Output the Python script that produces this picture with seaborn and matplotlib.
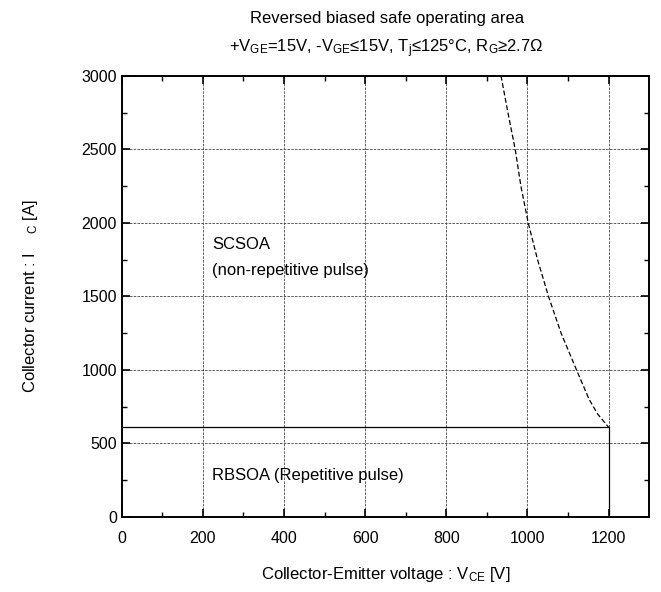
import numpy as np
import pandas as pd
import matplotlib
matplotlib.use("Agg")
import matplotlib.pyplot as plt
import seaborn as sns

# SCSOA boundary (dashed)
scsoa_v = [935, 952, 970, 984, 1002, 1025, 1052, 1083, 1121, 1152, 1173, 1200]
scsoa_i = [3000, 2750, 2500, 2250, 2000, 1750, 1500, 1250, 1000, 800, 700, 610]

# RBSOA rectangle (solid)
rbsoa_v = [0, 1200, 1200]
rbsoa_i = [610, 610, 0]

x_ticks = [0, 200, 400, 600, 800, 1000, 1200]
y_ticks = [0, 500, 1000, 1500, 2000, 2500, 3000]

sns.set_style("ticks")
plt.rcParams['font.family'] = ['Liberation Sans', 'DejaVu Sans']
plt.rcParams['mathtext.fontset'] = 'custom'
plt.rcParams['mathtext.rm'] = 'Liberation Sans'
plt.rcParams['mathtext.it'] = 'Liberation Sans'
plt.rcParams['text.color'] = 'black'
plt.rcParams['axes.labelcolor'] = 'black'

fig = plt.figure(figsize=(6.61, 5.92), dpi=100)
ax = fig.add_axes([0.184, 0.127, 0.798, 0.745])

sc = pd.DataFrame({"v": scsoa_v, "i": scsoa_i})
rb = pd.DataFrame({"v": rbsoa_v, "i": rbsoa_i})
sns.lineplot(data=sc, x="v", y="i", sort=False, estimator=None, ax=ax,
             color="black", lw=0.9, linestyle=(0, (4, 2)))
sns.lineplot(data=rb, x="v", y="i", sort=False, estimator=None, ax=ax,
             color="black", lw=0.9)

ax.set_xlim(0, 1300)
ax.set_ylim(0, 3000)
ax.set_xticks(x_ticks)
ax.set_yticks(y_ticks)
ax.set_xticks(np.arange(100, 1300, 200), minor=True)
ax.set_yticks(np.arange(250, 3000, 500), minor=True)
ax.grid(True, which="major", color="#444444", linestyle=(0, (3, 1.5)), lw=0.6)
ax.tick_params(which="both", direction="in", top=True, right=True,
               labelsize=11.5, colors="black")
ax.tick_params(which="major", length=6, width=1.2)
ax.tick_params(which="minor", length=3.5, width=1.0)
ax.tick_params(axis="x", pad=10)
for s in ax.spines.values():
    s.set_linewidth(1.4)
    s.set_color("black")

fs = 12
ax.text(223, 1851, "SCSOA", fontsize=fs, va="center", ha="left")
ax.text(223, 1674, "(non-repetitive pulse)", fontsize=fs, va="center", ha="left")
ax.text(223, 284, "RBSOA (Repetitive pulse)", fontsize=fs, va="center", ha="left")

ax.set_xlabel("Collector-Emitter voltage : V$_{\\mathrm{CE}}$ [V]", fontsize=fs, labelpad=14)
ax.set_ylabel("Collector current : I    $_{\\mathrm{C}}$ [A]", fontsize=fs, labelpad=30)

fig.text(0.585, 0.968, "Reversed biased safe operating area", ha="center", va="center", fontsize=fs)
fig.text(0.585, 0.918,
         "+V$_{\\mathrm{GE}}$=15V, -V$_{\\mathrm{GE}}$\u226415V, T$_{\\mathrm{j}}$\u2264125\u00b0C, R$_{\\mathrm{G}}$\u22652.7\u03a9",
         ha="center", va="center", fontsize=fs)

fig.savefig("out.png", dpi=100)
